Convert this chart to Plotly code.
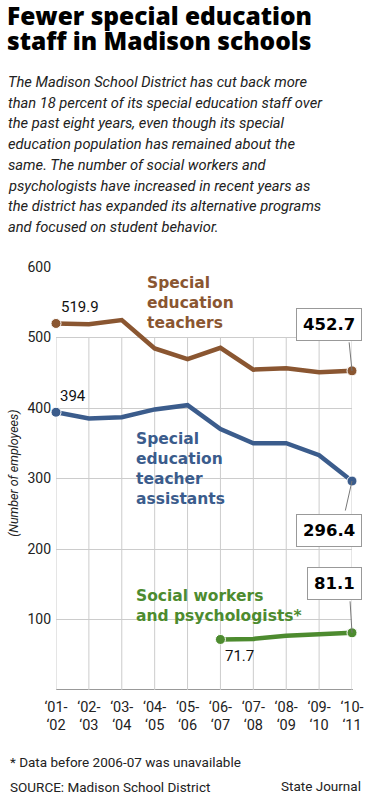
import plotly.graph_objects as go

# ---- data ----
categories = ["‘01-<br>‘02", "‘02-<br>‘03", "‘03-<br>‘04", "‘04-<br>‘05", "‘05-<br>‘06",
              "‘06-<br>‘07", "‘07-<br>‘08", "‘08-<br>‘09", "‘09-<br>‘10", "‘10-<br>‘11"]
teachers = [519.9, 518.7, 524.8, 484.5, 469.4, 485.4, 454.4, 456.3, 450.7, 452.7]
assistants = [394, 385, 387, 398, 404, 370, 350, 350, 333, 296.4]
social = [None, None, None, None, None, 71.7, 72.5, 77, 78.5, 81.1]
y_ticks = [100, 200, 300, 400, 500, 600]
title_lines = ["Fewer special education", "staff in Madison schools"]
body_lines = ["The Madison School District has cut back more",
              "than 18 percent of its special education staff over",
              "the past eight years, even though its special",
              "education population has remained about the",
              "same. The number of social workers and",
              "psychologists have increased in recent years as",
              "the district has expanded its alternative programs",
              "and focused on student behavior."]

BROWN = "#8a5631"
BLUE = "#3b5c8c"
GREEN = "#4d8b2f"
W, H = 376, 800
L, R, T, B = 56, 18, 267, 110
PW, PH = W - L - R, H - T - B
FONT = "Roboto, 'Open Sans', sans-serif"
TFONT = "'Open Sans', 'DejaVu Sans', sans-serif"
BFONT = "'DejaVu Sans', sans-serif"

def px(x):
    return (x - L) / PW

def py(y):
    return (H - B - y) / PH

xs = list(range(len(categories)))
fig = go.Figure()

def add_series(vals, color):
    pts = [(x, v) for x, v in zip(xs, vals) if v is not None]
    fig.add_trace(go.Scatter(
        x=[p[0] for p in pts], y=[p[1] for p in pts], mode="lines",
        line=dict(color=color, width=4.5), cliponaxis=False, hoverinfo="skip"))
    ends = [pts[0], pts[-1]]
    fig.add_trace(go.Scatter(
        x=[p[0] for p in ends], y=[p[1] for p in ends], mode="markers",
        marker=dict(color=color, size=10, line=dict(color="white", width=1)),
        cliponaxis=False, hoverinfo="skip"))

add_series(teachers, BROWN)
add_series(assistants, BLUE)
add_series(social, GREEN)

shapes = []
for x in xs:
    shapes.append(dict(type="line", xref="x", yref="y", x0=x, x1=x, y0=0, y1=500,
                       line=dict(color="#cccccc", width=1), layer="below"))
shapes.append(dict(type="line", xref="paper", yref="y", x0=0, x1=1.003, y0=0, y1=0,
                   line=dict(color="#999999", width=2), layer="below"))

ann = []
# title
for i, t in enumerate(title_lines):
    ann.append(dict(text=t, x=px(4), y=py(15 + 25 * i), xref="paper", yref="paper",
                    xanchor="left", yanchor="middle", showarrow=False,
                    font=dict(family=TFONT, size=24.5, color="#000", weight=800)))
# body
for i, t in enumerate(body_lines):
    ann.append(dict(text=f"<i>{t}</i>", x=px(5), y=py(82 + 20.7 * i), xref="paper", yref="paper",
                    align="left", xanchor="left", yanchor="middle", showarrow=False,
                    font=dict(family=FONT, size=14.7, color="#222")))
# axis title
ann.append(dict(text="<i>(Number of employees)</i>", x=px(12), y=py(473), xref="paper", yref="paper",
                textangle=-90, xanchor="center", yanchor="middle", showarrow=False,
                font=dict(family=FONT, size=12.5, color="#222")))
# series labels
ann.append(dict(text="<b>Special<br>education<br>teachers</b>", x=px(147), y=py(303), xref="paper",
                yref="paper", align="left", xanchor="left", yanchor="middle", showarrow=False,
                font=dict(family=BFONT, size=15.5, color=BROWN)))
ann.append(dict(text="<b>Special<br>education<br>teacher<br>assistants</b>", x=px(136), y=py(469),
                xref="paper", yref="paper", align="left", xanchor="left", yanchor="middle",
                showarrow=False, font=dict(family=BFONT, size=15.5, color=BLUE)))
ann.append(dict(text="<b>Social workers<br>and psychologists*</b>", x=px(136), y=py(606),
                xref="paper", yref="paper", align="left", xanchor="left", yanchor="middle",
                showarrow=False, font=dict(family=BFONT, size=15.5, color=GREEN)))
# start value labels
ann.append(dict(text=f"{teachers[0]}", x=xs[0], y=teachers[0], xanchor="left", yanchor="middle",
                xshift=3, yshift=16, showarrow=False, font=dict(family=FONT, size=15, color="#111")))
ann.append(dict(text=f"{assistants[0]}", x=xs[0], y=assistants[0], xanchor="left", yanchor="middle",
                xshift=2, yshift=16, showarrow=False, font=dict(family=FONT, size=15, color="#111")))
i0 = next(i for i, v in enumerate(social) if v is not None)
ann.append(dict(text=f"{social[i0]}", x=xs[i0], y=social[i0], xanchor="left", yanchor="middle",
                xshift=3, yshift=-17, showarrow=False, font=dict(family=FONT, size=15, color="#111")))
# end callouts
for vals, ax_, ay_, xs_, ys_ in [(teachers, -3, -30, -23, 46),
                                 (assistants, -7, 31, -23, -49),
                                 (social, -2, -33, -18, 49)]:
    ann.append(dict(text="", x=xs[-1], y=vals[-1], ax=ax_, ay=ay_, showarrow=True,
                    arrowhead=0, arrowwidth=1, arrowcolor="#777"))
    ann.append(dict(text=f"<b>{vals[-1]}</b>", x=xs[-1], y=vals[-1], xshift=xs_, yshift=ys_,
                    showarrow=False, bgcolor="white", bordercolor="#999", borderwidth=1,
                    borderpad=6, xanchor="center", yanchor="middle",
                    font=dict(family=BFONT, size=16.5, color="#000")))
# footer
ann.append(dict(text="* Data before 2006-07 was unavailable", x=px(7), y=py(762), xref="paper",
                yref="paper", xanchor="left", yanchor="middle", showarrow=False,
                font=dict(family=FONT, size=13.5, color="#222")))
ann.append(dict(text="SOURCE: Madison School District", x=px(7), y=py(787), xref="paper",
                yref="paper", xanchor="left", yanchor="middle", showarrow=False,
                font=dict(family=FONT, size=13.5, color="#222")))
ann.append(dict(text="State Journal", x=px(369), y=py(786), xref="paper",
                yref="paper", xanchor="right", yanchor="middle", showarrow=False,
                font=dict(family=FONT, size=13.5, color="#222")))

fig.update_layout(
    width=W, height=H, margin=dict(l=L, r=R, t=T, b=B),
    paper_bgcolor="white", plot_bgcolor="white", showlegend=False,
    shapes=shapes, annotations=ann,
    xaxis=dict(range=[0, len(categories) - 1], tickvals=xs, ticktext=categories,
               showgrid=False, zeroline=False, showline=False, ticks="",
               tickfont=dict(family=FONT, size=14.5, color="#222"), ticklabelstandoff=6),
    yaxis=dict(range=[0, 600], tickvals=y_ticks, showgrid=True, gridcolor="#cccccc",
               gridwidth=1, zeroline=False, showline=False, ticks="",
               tickfont=dict(family=FONT, size=14, color="#222"), ticklabelstandoff=4),
)
fig.write_html("out.html", config={"displayModeBar": False},
               post_script="document.body.style.margin='0';")
